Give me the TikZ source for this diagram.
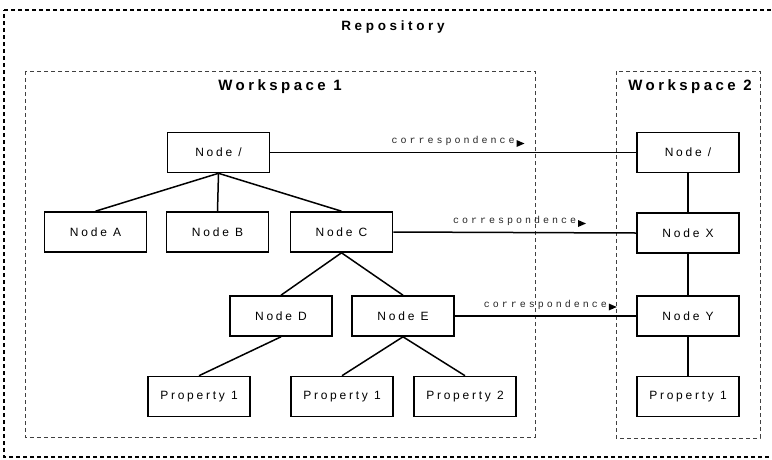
\documentclass[tikz,border=0pt]{standalone}
\usepackage{fontspec}
\setmainfont{Liberation Sans}
\newfontfamily\boxfont[LetterSpace=23]{Liberation Sans}
\newfontfamily\repofont[LetterSpace=27]{Liberation Sans}
\newfontfamily\wsfont[LetterSpace=23]{Liberation Sans}
\newfontfamily\corrfont[LetterSpace=30]{Liberation Mono}
\begin{document}
\begin{tikzpicture}[x=1pt,y=-1pt,
  box/.style={draw, line width=1.6pt, minimum width=102pt, minimum height=40pt,
    inner sep=0pt, font=\boxfont\fontsize{12}{14}\selectfont},
  link/.style={line width=1.5pt},
  corrlabel/.style={inner sep=0pt, anchor=base, yshift=9pt, text=black!85,
    font=\corrfont\fontsize{10}{11}\selectfont},
  wsframe/.style={draw=black!75, dash pattern=on 4pt off 3pt, line width=0.9pt},
  repoframe/.style={draw, dash pattern=on 4pt off 3pt, line width=1.4pt},
  repotitle/.style={inner sep=0pt, font=\repofont\bfseries\fontsize{13.5}{16}\selectfont},
  wstitle/.style={inner sep=0pt, font=\wsfont\bfseries\fontsize{15}{17}\selectfont}
]
\useasboundingbox (0,0) rectangle (772,459);

% frames (the repository frame runs past the right edge)
\draw[repoframe] (4,10) -- (790,10);
\draw[repoframe] (790,457) -- (4,457) -- (4,10);
\draw[wsframe] (25,71) rectangle (535,437);
\draw[wsframe] (616,71) rectangle (760,438);

% titles
\node[repotitle] (trepo) at (393,27) {Repository};
\node[wstitle] (tws1) at (280,87) {Workspace 1};
\node[wstitle] (tws2) at (690,87) {Workspace 2};

% workspace 1 tree
\node[box] (n0) at (218.5,152.5) {Node /};
\node[box] (na) at (95.5,232) {Node A};
\node[box] (nb) at (217.5,232) {Node B};
\node[box] (nc) at (341.5,232) {Node C};
\node[box] (nd) at (281,316) {Node D};
\node[box] (ne) at (403,316) {Node E};
\node[box] (p1) at (199,396.5) {Property 1};
\node[box] (p2) at (342,396.5) {Property 1};
\node[box] (p3) at (465,396.5) {Property 2};

% workspace 2 chain
\node[box] (w0) at (688,152.5) {Node /};
\node[box] (wx) at (688,233) {Node X};
\node[box] (wy) at (688,316) {Node Y};
\node[box] (wp) at (688,396.5) {Property 1};

% tree edges
\draw[link] (n0.south) -- (na.north);
\draw[link] (n0.south) -- (nb.north);
\draw[link] (n0.south) -- (nc.north);
\draw[link] (nc.south) -- (nd.north);
\draw[link] (nc.south) -- (ne.north);
\draw[link] (nd.south) -- (p1.north);
\draw[link] (ne.south) -- (p2.north);
\draw[link] (ne.south) -- (p3.north);
\draw[link] (w0) -- (wx);
\draw[link] (wx) -- (wy);
\draw[link] (wy) -- (wp);

% correspondences between workspaces
\draw[link] (n0.east) -- node[corrlabel] (c1) {correspondence} (w0.west);
\draw[link] (nc.east) -- node[corrlabel] (c2) {correspondence} (wx.west);
\draw[link] (ne.east) -- node[corrlabel] (c3) {correspondence} (wy.west);
\foreach \c in {c1,c2,c3}{
  \fill ([xshift=1pt,yshift=3.5pt]\c.base east) -- ([xshift=1pt,yshift=-3.5pt]\c.base east)
    -- ([xshift=9pt]\c.base east) -- cycle;
}
\end{tikzpicture}
\end{document}
